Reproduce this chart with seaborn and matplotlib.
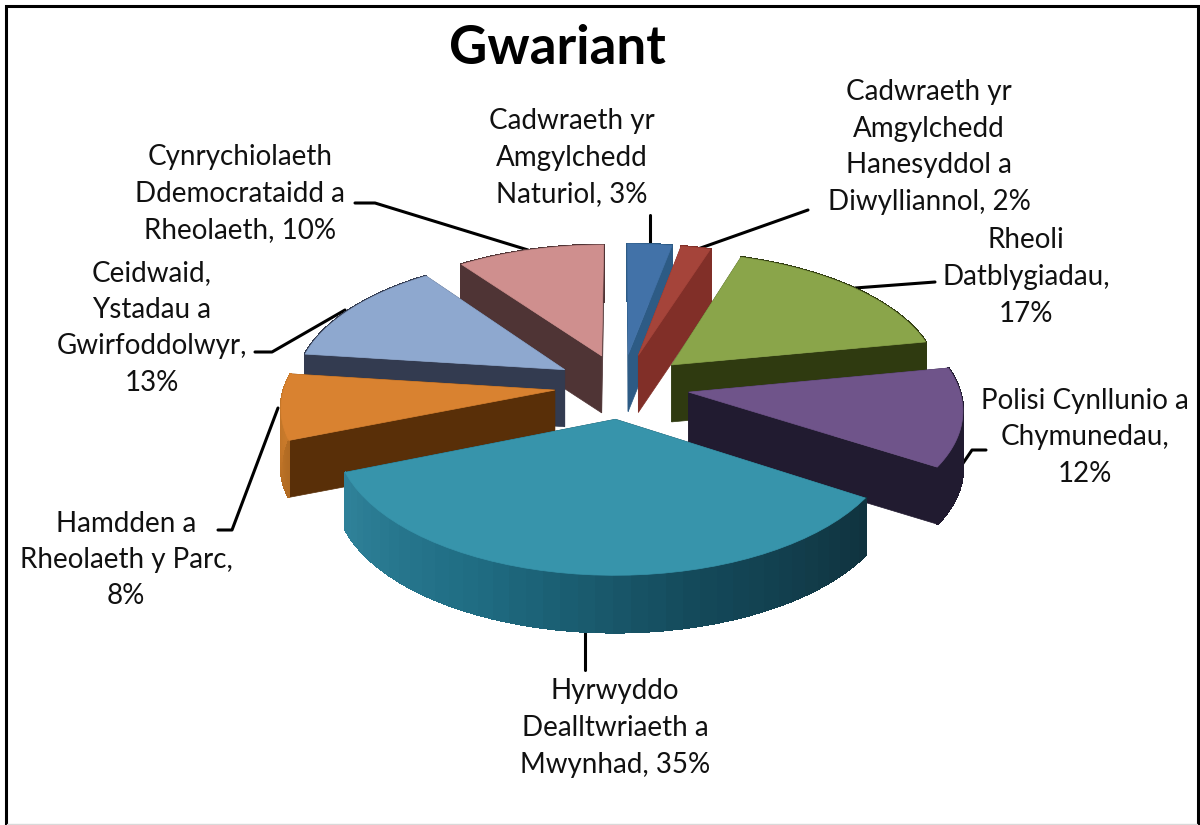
import numpy as np
import matplotlib
matplotlib.use("Agg")
import matplotlib.pyplot as plt
import seaborn as sns

# gwariant data, percent of the total, clockwise from the top
names = [
    "Cadwraeth yr\nAmgylchedd\nNaturiol, ",
    "Cadwraeth yr\nAmgylchedd\nHanesyddol a\nDiwylliannol, ",
    "Rheoli\nDatblygiadau,\n",
    "Polisi Cynllunio a\nChymunedau,\n",
    "Hyrwyddo\nDealltwriaeth a\nMwynhad, ",
    "Hamdden a\nRheolaeth y Parc,\n",
    "Ceidwaid,\nYstadau a\nGwirfoddolwyr,\n",
    "Cynrychiolaeth\nDdemocrataidd a\nRheolaeth, ",
]
values = [3, 2, 17, 12, 35, 8, 13, 10]

top_colors = ["#4272a8", "#a5443a", "#8aa54a", "#6f548a", "#3794ab", "#d98230", "#8ea8cf", "#cf8f8e"]
cut_colors = ["#2d5b85", "#812f28", "#2f3a10", "#211b30", "#123440", "#592f08", "#333b50", "#4f3435"]
arc_colors = [
    ["#2d5b85", "#2d5b85"],
    ["#812f28", "#812f28"],
    ["#2f3a10", "#2f3a10"],
    ["#211b30", "#211b30"],
    ["#10333f", "#14495a", "#1f6c82", "#2f8199"],
    ["#b06a22", "#cc7c2c"],
    ["#333b50", "#333b50"],
    ["#4f3435", "#4f3435"],
]

# where the pieces of text and the leader lines sit, in image pixels
label_pos = [(572, 158), (929, 147), (1026, 277), (1085, 437), (615, 728), (126, 560), (152, 328), (240, 194)]
leaders = [
    [(650, 215), (650, 246)],
    [(808, 210), (695, 250)],
    [(855, 288), (935, 282)],
    [(955, 475), (972, 450), (986, 450)],
    [(585, 630), (585, 670)],
    [(278, 408), (232, 530), (218, 530)],
    [(345, 310), (272, 352), (255, 352)],
    [(528, 250), (375, 203), (355, 203)],
]

# camera for the tilted pie
cx, cy = 622, 386
rx, ry = 270, 130
persp = 0.114
explode = 0.25
depth = 57
draw_order = [0, 1, 7, 2, 6, 5, 3, 4]


def project(u, v):
    s = 1 / (1 + persp * v)
    return cx + rx * u * s, cy - ry * v * s


def slice_outline(start, end, n):
    mid = (start + end) / 2
    du, dv = explode * np.sin(mid), explode * np.cos(mid)
    t = np.linspace(start, end, n)
    arc_x, arc_y = project(du + np.sin(t), dv + np.cos(t))
    apex_x, apex_y = project(du, dv)
    return apex_x, apex_y, arc_x, arc_y


sns.set_theme(style="white")
plt.rcParams["font.family"] = ["Lato", "DejaVu Sans"]

fig = plt.figure(figsize=(12, 8.25), dpi=100)
ax = fig.add_axes([0, 0, 1, 1])
ax.set_xlim(0, 1200)
ax.set_ylim(825, 0)
ax.axis("off")

# chart frame
ax.plot([6, 6, 1198, 1198], [825, 6, 6, 825], color="black", lw=2.2, solid_joinstyle="miter")
ax.plot([7, 1197], [823.5, 823.5], color="#d9d9d9", lw=1)

for line in leaders:
    xs, ys = zip(*line)
    ax.plot(xs, ys, color="black", lw=2.2, zorder=1)

edges = np.cumsum([0] + values) / sum(values) * 2 * np.pi
z = 2
for i in draw_order:
    apex_x, apex_y, arc_x, arc_y = slice_outline(edges[i], edges[i + 1], 40)
    cut = cut_colors[i]
    # the two cut faces
    for k in (0, -1):
        fx = [apex_x, arc_x[k], arc_x[k], apex_x]
        fy = [apex_y, arc_y[k], arc_y[k] + depth, apex_y + depth]
        ax.fill(fx, fy, color=cut, lw=0.5, zorder=z)
    # outer wall, in short strips so the shade can change along it
    shades = sns.blend_palette(arc_colors[i], len(arc_x) - 1)
    for k in range(len(arc_x) - 1):
        fx = [arc_x[k], arc_x[k + 1], arc_x[k + 1], arc_x[k]]
        fy = [arc_y[k], arc_y[k + 1], arc_y[k + 1] + depth, arc_y[k] + depth]
        ax.fill(fx, fy, facecolor=shades[k], edgecolor=shades[k], lw=1.2, antialiased=False, zorder=z)
    ax.fill(np.r_[apex_x, arc_x], np.r_[apex_y, arc_y], color=top_colors[i], lw=0.5, zorder=z + 0.5)
    z += 1

for name, val, (lx, ly) in zip(names, values, label_pos):
    ax.text(lx, ly, f"{name}{val}%", ha="center", va="center", fontsize=20, color="#111111",
            linespacing=1.5, zorder=20)

ax.text(557, 48, "Gwariant", ha="center", va="center", fontsize=38, fontweight="bold", color="black")

fig.savefig("out.png", dpi=100)
